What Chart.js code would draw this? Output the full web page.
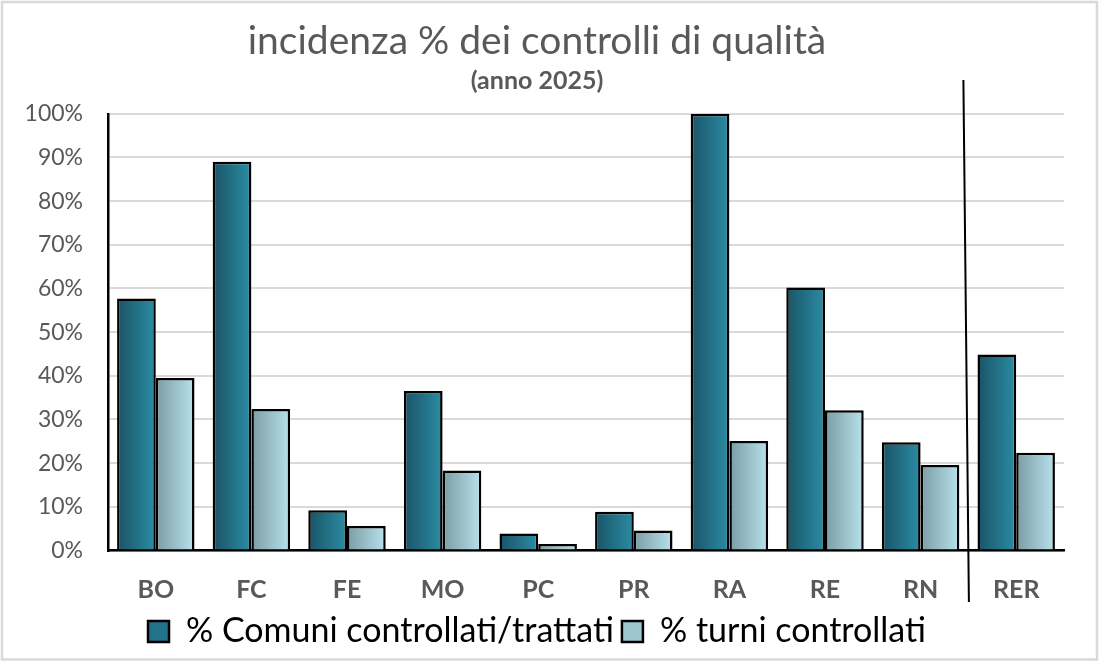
<!DOCTYPE html>
<html>
<head>
<meta charset="utf-8">
<script src="https://cdn.jsdelivr.net/npm/chart.js"></script>
<style>
  html, body { margin: 0; padding: 0; background: #fff; }
  canvas { display: block; }
</style>
</head>
<body>
<canvas id="qualityChart" width="1100" height="661"></canvas>
<script>
const categories = ['BO', 'FC', 'FE', 'MO', 'PC', 'PR', 'RA', 'RE', 'RN', 'RER'];
const comuniControllati = [57.7, 89, 9.2, 36.5, 3.9, 8.9, 100, 60.2, 24.8, 44.9];
const turniControllati = [39.5, 32.4, 5.6, 18.3, 1.5, 4.6, 25.1, 32.1, 19.6, 22.4];
const seriesNames = ['% Comuni controllati/trattati', '% turni controllati'];
const yTicks = [0, 10, 20, 30, 40, 50, 60, 70, 80, 90, 100];

const CAT_PCT = 0.81;
const textGrey = '#595959';
const darkStops = ['#1a5366', '#2b8da4'];
const lightStops = ['#7b9ca4', '#b8e2ec'];

// horizontal gradient across each single bar
function barFill(stops) {
    return (ctx) => {
        const chart = ctx.chart;
        const area = chart.chartArea;
        if (!area || ctx.type !== 'data') return stops[1];
        const xs = chart.scales.x;
        const catW = (area.right - area.left) / categories.length;
        const w = catW * CAT_PCT / 2;
        const left = xs.getPixelForValue(ctx.dataIndex) - w + ctx.datasetIndex * w;
        const g = chart.ctx.createLinearGradient(left, 0, left + w, 0);
        g.addColorStop(0, stops[0]);
        g.addColorStop(1, stops[1]);
        return g;
    };
}

const frame = {
    id: 'frame',
    beforeDraw(chart) {
        const c = chart.ctx;
        c.save();
        c.fillStyle = '#fff';
        c.fillRect(0, 0, chart.width, chart.height);
        c.strokeStyle = '#d9d9d9';
        c.lineWidth = 2.5;
        c.strokeRect(2, 2, chart.width - 5, chart.height - 3.5);
        c.restore();
    }
};

// vertical separator between provinces and the regional total
const separator = {
    id: 'separator',
    afterDatasetsDraw(chart) {
        const xs = chart.scales.x;
        const b = (xs.getPixelForValue(8) + xs.getPixelForValue(9)) / 2;
        const c = chart.ctx;
        c.save();
        c.strokeStyle = '#000';
        c.lineWidth = 2;
        c.beginPath();
        c.moveTo(b - 5, 80);
        c.lineTo(b + 0.5, 602);
        c.stroke();
        c.restore();
    }
};

new Chart(document.getElementById('qualityChart'), {
    type: 'bar',
    data: {
        labels: categories,
        datasets: [{
            label: seriesNames[0],
            data: comuniControllati,
            backgroundColor: barFill(darkStops),
            borderColor: '#000',
            borderWidth: 2.5
        }, {
            label: seriesNames[1],
            data: turniControllati,
            backgroundColor: barFill(lightStops),
            borderColor: '#000',
            borderWidth: 2.5
        }]
    },
    options: {
        responsive: false,
        devicePixelRatio: 1,
        animation: false,
        categoryPercentage: CAT_PCT,
        barPercentage: 1,
        layout: {
            padding: { left: 10, right: 36, top: 0, bottom: 2.5 }
        },
        plugins: {
            tooltip: { enabled: false },
            title: {
                display: true,
                text: 'incidenza % dei controlli di qualità',
                color: textGrey,
                font: { family: 'Lato', size: 39, weight: 'normal' },
                padding: { top: 18, bottom: 0 }
            },
            subtitle: {
                display: true,
                text: '(anno 2025)',
                color: textGrey,
                font: { family: 'Lato', size: 25, weight: 'bold' },
                padding: { top: 1, bottom: 18 }
            },
            legend: {
                position: 'bottom',
                labels: {
                    color: textGrey,
                    font: { family: 'Lato', size: 34 },
                    boxWidth: 21,
                    boxHeight: 21,
                    padding: 8,
                    generateLabels: () => [
                        { text: seriesNames[0], fillStyle: '#22728a', strokeStyle: '#000', lineWidth: 2.5, datasetIndex: 0 },
                        { text: seriesNames[1], fillStyle: '#9dc6d0', strokeStyle: '#000', lineWidth: 2.5, datasetIndex: 1 }
                    ]
                }
            }
        },
        scales: {
            x: {
                grid: { display: false },
                border: { display: true, color: '#000', width: 2.5 },
                ticks: {
                    color: textGrey,
                    font: { family: 'Lato', size: 25, weight: 'bold' },
                    padding: 16
                },
                afterFit: (scale) => { scale.height = 56; }
            },
            y: {
                min: 0,
                max: 100,
                afterBuildTicks: (scale) => { scale.ticks = yTicks.map(v => ({ value: v })); },
                grid: { color: '#d9d9d9', lineWidth: 2, drawTicks: false },
                border: { display: true, color: '#000', width: 2.5 },
                ticks: {
                    color: textGrey,
                    font: { family: 'Lato', size: 23 },
                    padding: 25,
                    callback: (v) => v + '%'
                },
                afterFit: (scale) => { scale.width = 98; }
            }
        }
    },
    plugins: [frame, separator]
});
</script>
</body>
</html>
